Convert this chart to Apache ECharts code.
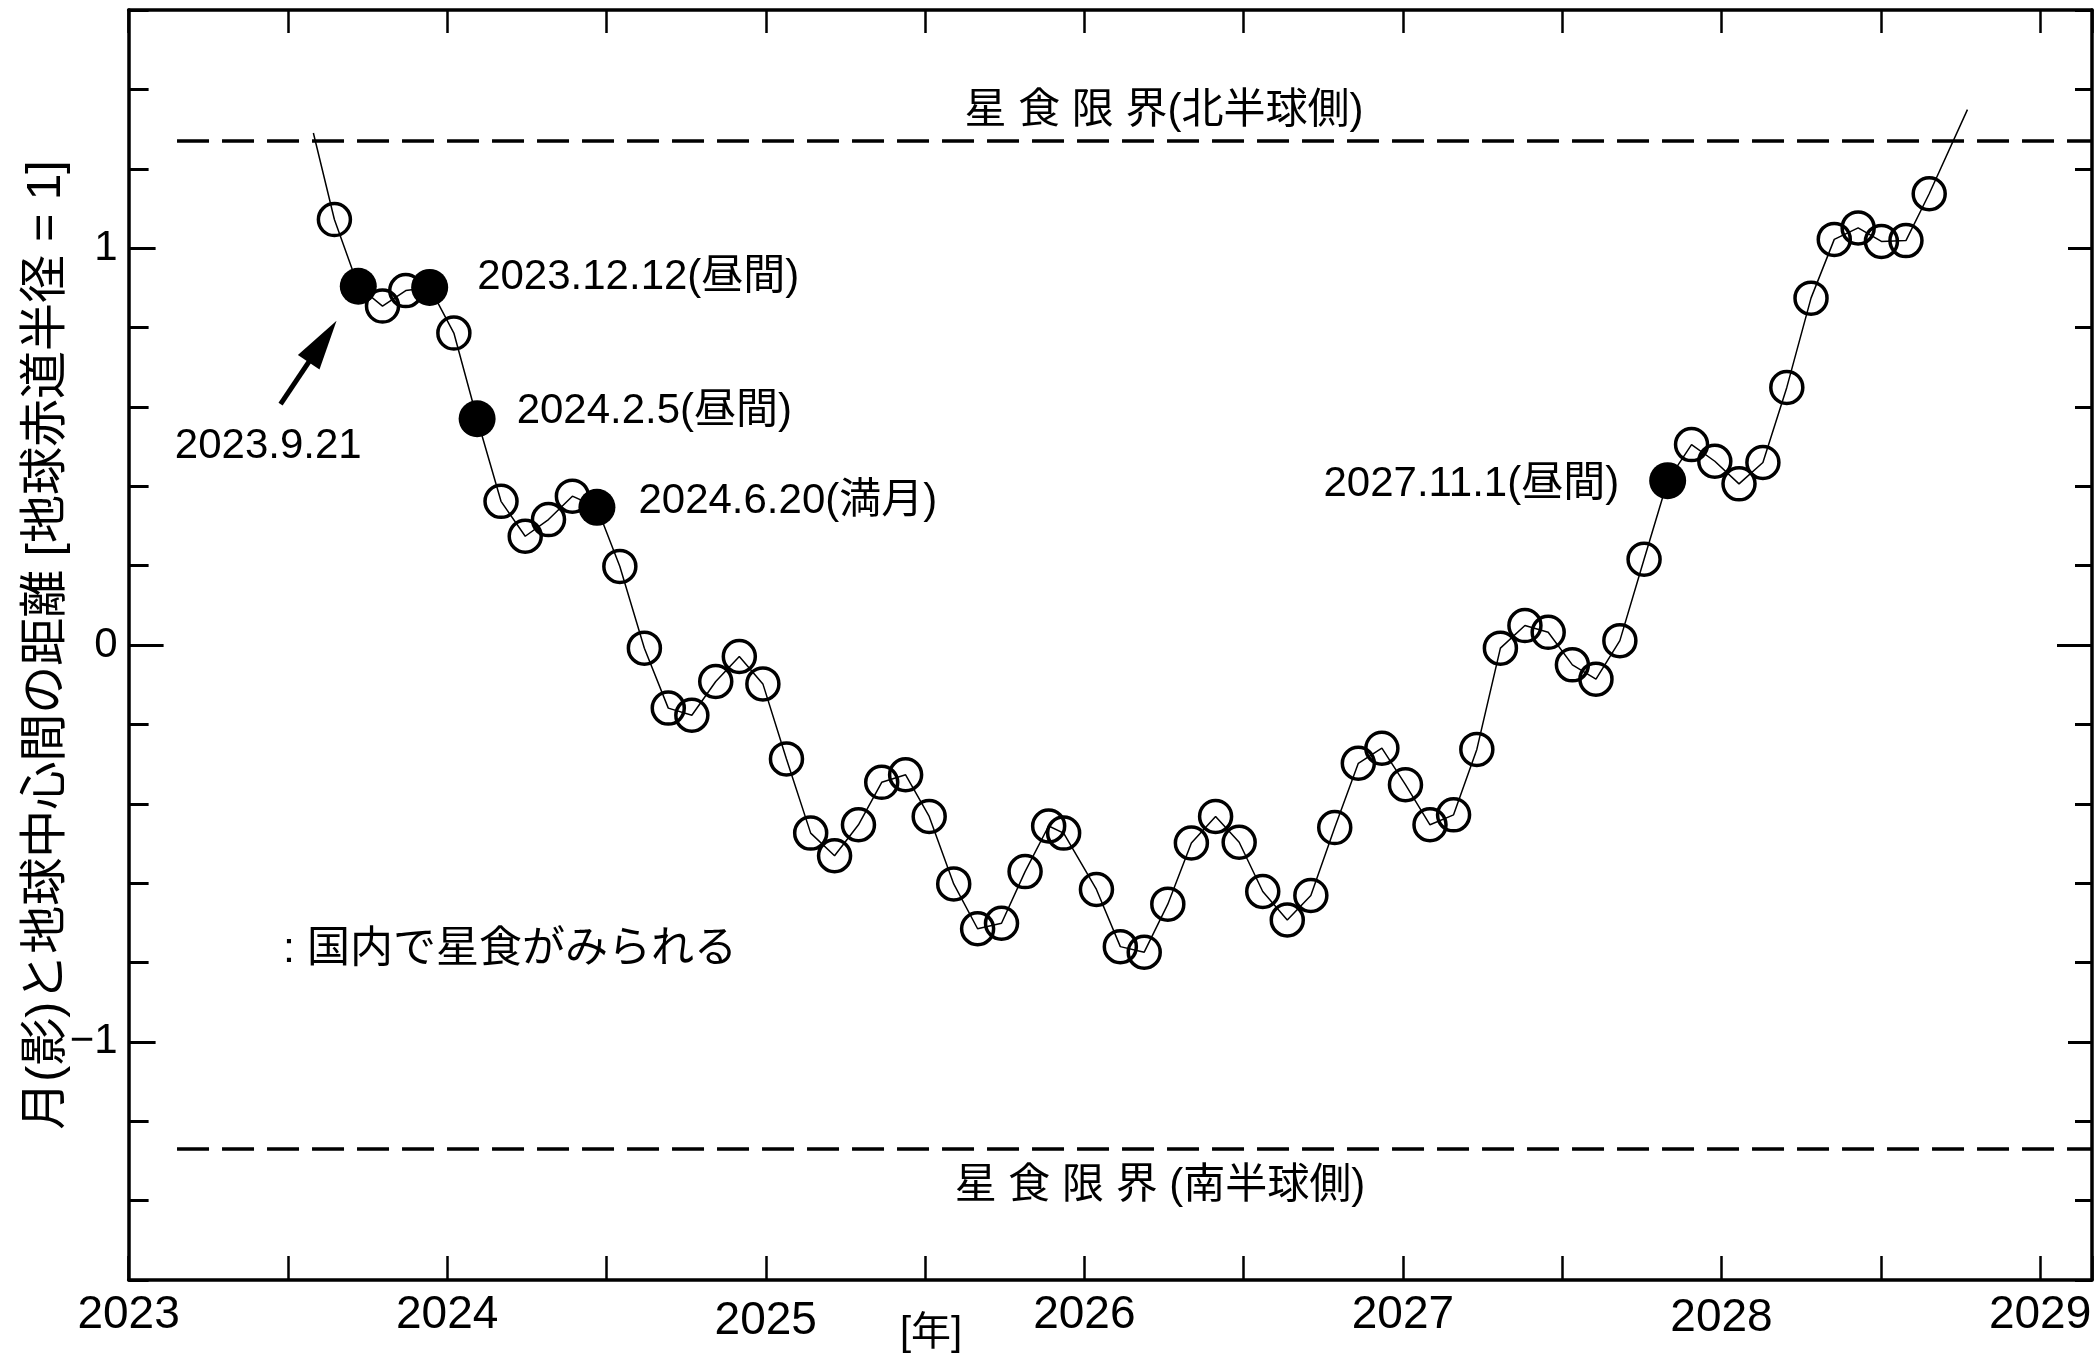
<!DOCTYPE html>
<html>
<head>
<meta charset="utf-8">
<script src="https://cdn.jsdelivr.net/npm/echarts@6/dist/echarts.min.js"></script>
<style>
html,body{margin:0;padding:0;background:#fff;}
#c{width:2098px;height:1356px;}
</style>
</head>
<body>
<div id="c"></div>
<script>
// ---- data (decimal year, distance in Earth equatorial radii) ----
const yearTicks = [2023, 2024, 2025, 2026, 2027, 2028, 2029];
const yTickLabels = [-1, 0, 1];
const lineStart = [2023.580, 1.290];
const lineEnd = [2028.772, 1.349];
const dates = [
  2023.646, 2023.721, 2023.797, 2023.870, 2023.945, 2024.021, 2024.094, 2024.169,
  2024.245, 2024.318, 2024.393, 2024.470, 2024.542, 2024.619, 2024.694, 2024.768,
  2024.843, 2024.917, 2024.991, 2025.065, 2025.141, 2025.216, 2025.291, 2025.364,
  2025.439, 2025.513, 2025.590, 2025.665, 2025.740, 2025.814, 2025.888, 2025.935,
  2026.038, 2026.113, 2026.188, 2026.262, 2026.336, 2026.412, 2026.486, 2026.560,
  2026.637, 2026.711, 2026.786, 2026.860, 2026.934, 2027.008, 2027.085, 2027.159,
  2027.232, 2027.306, 2027.383, 2027.456, 2027.532, 2027.606, 2027.681, 2027.757,
  2027.831, 2027.906, 2027.979, 2028.055, 2028.130, 2028.205, 2028.281, 2028.354,
  2028.429, 2028.502, 2028.579, 2028.652
];
const distances = [
  1.072, 0.904, 0.854, 0.893, 0.901, 0.786, 0.570, 0.362,
  0.274, 0.316, 0.375, 0.347, 0.198, -0.008, -0.159, -0.177,
  -0.092, -0.029, -0.098, -0.287, -0.474, -0.531, -0.453, -0.346,
  -0.327, -0.432, -0.602, -0.715, -0.701, -0.571, -0.456, -0.474,
  -0.616, -0.760, -0.774, -0.653, -0.499, -0.432, -0.497, -0.621,
  -0.693, -0.631, -0.460, -0.298, -0.260, -0.352, -0.453, -0.428,
  -0.263, -0.008, 0.049, 0.032, -0.050, -0.086, 0.011, 0.216,
  0.414, 0.505, 0.463, 0.406, 0.460, 0.649, 0.874, 1.022,
  1.051, 1.017, 1.019, 1.137
];
const filledDates = [2023.721, 2023.945, 2024.094, 2024.470, 2027.831];
const filledValues = [0.904, 0.901, 0.570, 0.347, 0.414];
const filledLabels = ['2023.9.21', '2023.12.12(昼間)', '2024.2.5(昼間)', '2024.6.20(満月)', '2027.11.1(昼間)'];
const limitValues = [1.27, -1.27];
const limitLabels = ['星 食 限 界(北半球側)', '星 食 限 界 (南半球側)'];
const legendText = ': 国内で星食がみられる';
const xTitle = '[年]';
const yTitle = '月(影)と地球中心間の距離 [地球赤道半径 = 1]';

// ---- chart ----
const FONT = '"Liberation Sans", Arial, "Noto Sans CJK JP", sans-serif';
const X_MIN = 2023, X_MAX = 2029.163, Y_MIN = -1.6, Y_MAX = 1.6;
const chart = echarts.init(document.getElementById('c'), null, {renderer: 'canvas'});

const lineData = [lineStart].concat(dates.map((d, i) => [d, distances[i]])).concat([lineEnd]);
const openData = dates.map((d, i) => [d, distances[i]]);

const labelLayouts = [
  {position: 'inside', offset: [-90, 160]},
  {position: 'right', distance: 29, offset: [0, -10]},
  {position: 'right', distance: 21, offset: [0, -7]},
  {position: 'right', distance: 23, offset: [0, -6]},
  {position: 'left', distance: 30, offset: [0, 4]}
];
const filledData = filledDates.map((d, i) => ({
  value: [d, filledValues[i]],
  label: Object.assign({show: true, formatter: filledLabels[i], fontSize: 42, color: '#000', opacity: 1, fontFamily: FONT}, labelLayouts[i])
}));

const isInt = v => Math.abs(v - Math.round(v)) < 1e-9;
const fmtY = v => isInt(v) ? (v < 0 ? '\u2212' + Math.abs(Math.round(v)) : String(Math.round(Math.abs(v)))) : '';

function tickAxis(position, ticks, len, extra) {
  return Object.assign({
    type: 'value', position: position, min: Y_MIN, max: Y_MAX,
    axisLine: {show: false, onZero: false},
    axisTick: {show: true, inside: true, length: len, customValues: ticks, lineStyle: {color: '#000', width: 3}},
    axisLabel: {show: false},
    splitLine: {show: false}
  }, extra || {});
}

const option = {
  animation: false,
  backgroundColor: '#fff',
  grid: {left: 128.6, right: 6, top: 10, bottom: 76, containLabel: false, outerBoundsMode: 'none'},
  xAxis: [
    {
      type: 'value', position: 'bottom', min: X_MIN, max: X_MAX, interval: 0.5,
      axisLine: {show: true, onZero: false, lineStyle: {color: '#000', width: 3.5}},
      axisTick: {show: true, inside: true, length: 24, lineStyle: {color: '#000', width: 2.5}},
      axisLabel: {
        show: true, customValues: yearTicks, margin: 12, fontSize: 46, color: '#000', fontFamily: FONT,
        formatter: v => isInt(v) ? (Math.round(v) === 2025 ? '{lo|2025}' : (Math.round(v) === 2028 ? '{mid|2028}' : String(Math.round(v)))) : '',
        rich: {
          lo: {fontSize: 46, color: '#000', fontFamily: FONT, padding: [6, 0, 0, 0]},
          mid: {fontSize: 46, color: '#000', fontFamily: FONT, padding: [3, 0, 0, 0]}
        }
      },
      splitLine: {show: false}
    },
    {
      type: 'value', position: 'top', min: X_MIN, max: X_MAX, interval: 0.5,
      axisLine: {show: true, onZero: false, lineStyle: {color: '#000', width: 3.5}},
      axisTick: {show: true, inside: true, length: 23, lineStyle: {color: '#000', width: 2.5}},
      axisLabel: {show: false},
      splitLine: {show: false}
    }
  ],
  yAxis: [
    {
      type: 'value', position: 'left', min: Y_MIN, max: Y_MAX, interval: 0.2,
      axisLine: {show: true, onZero: false, lineStyle: {color: '#000', width: 3.5}},
      axisTick: {show: true, inside: true, length: 20, lineStyle: {color: '#000', width: 3}},
      axisLabel: {show: true, customValues: yTickLabels, formatter: fmtY, fontSize: 42, color: '#000', margin: 11, fontFamily: FONT},
      splitLine: {show: false},
      name: yTitle, nameLocation: 'middle', nameRotate: 90, nameGap: 58, nameMoveOverlap: false,
      nameTextStyle: {fontSize: 48, color: '#000', fontFamily: FONT}
    },
    tickAxis('left', [-1, 1], 27),
    tickAxis('left', [0], 35),
    {
      type: 'value', position: 'right', min: Y_MIN, max: Y_MAX, interval: 0.2,
      axisLine: {show: true, onZero: false, lineStyle: {color: '#000', width: 3.5}},
      axisTick: {show: true, inside: true, length: 17, lineStyle: {color: '#000', width: 3}},
      axisLabel: {show: false},
      splitLine: {show: false}
    },
    tickAxis('right', [-1, 1], 24),
    tickAxis('right', [0], 35)
  ],
  series: [
    {
      type: 'line', xAxisIndex: 0, yAxisIndex: 0, data: lineData, symbol: 'none',
      lineStyle: {color: '#000', width: 1.5}, z: 2, silent: true,
      markLine: {
        silent: true, symbol: ['none', 'none'], animation: false,
        label: {show: false},
        lineStyle: {color: '#000', width: 3.5, type: [32, 13], opacity: 1},
        emphasis: {disabled: true},
        data: limitValues.map(v => [{coord: [2023.152, v]}, {coord: [X_MAX, v]}])
      }
    },
    {
      type: 'scatter', xAxisIndex: 0, yAxisIndex: 0, data: openData, symbol: 'circle', symbolSize: 32,
      itemStyle: {color: 'rgba(0,0,0,0)', borderColor: '#000', borderWidth: 3.5, opacity: 1}, z: 3, silent: true,
      markLine: {
        silent: true, animation: false,
        symbol: ['none', 'path://M5,0 L10,19 L0,19 Z'], symbolSize: [26, 50],
        label: {show: false},
        lineStyle: {color: '#000', width: 5, type: 'solid', opacity: 1},
        itemStyle: {color: '#000', opacity: 1},
        emphasis: {disabled: true},
        data: [[{coord: [2023.477, 0.607]}, {coord: [2023.609, 0.765]}]]
      }
    },
    {
      type: 'scatter', xAxisIndex: 0, yAxisIndex: 0, data: filledData, symbol: 'circle', symbolSize: 37,
      itemStyle: {color: '#000', opacity: 1}, z: 4, silent: true
    }
  ],
  graphic: [
    {type: 'text', x: 1164, y: 111, z: 10, style: {text: limitLabels[0], fontSize: 42, fill: '#000', fontFamily: FONT, align: 'center', verticalAlign: 'middle'}},
    {type: 'text', x: 1160, y: 1186, z: 10, style: {text: limitLabels[1], fontSize: 42, fill: '#000', fontFamily: FONT, align: 'center', verticalAlign: 'middle'}},
    {type: 'text', x: 283, y: 950, z: 10, style: {text: legendText, fontSize: 43, fill: '#000', fontFamily: FONT, align: 'left', verticalAlign: 'middle'}},
    {type: 'text', x: 931, y: 1334, z: 10, style: {text: xTitle, fontSize: 40, fill: '#000', fontFamily: FONT, align: 'center', verticalAlign: 'middle'}}
  ]
};
chart.setOption(option);
</script>
</body>
</html>
